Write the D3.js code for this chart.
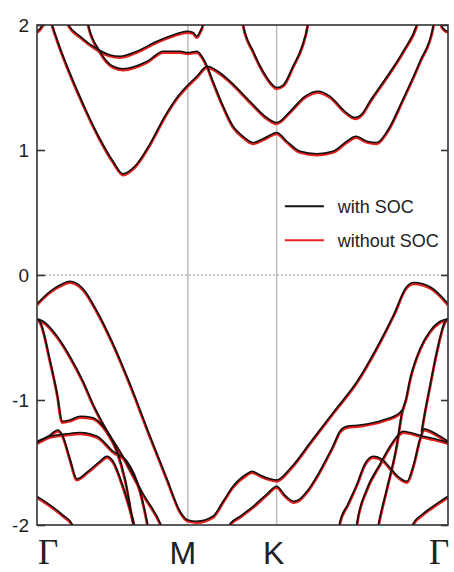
<!DOCTYPE html>
<html>
<head>
<meta charset="utf-8">
<script src="https://cdn.jsdelivr.net/npm/d3@7"></script>
<style>
  html, body { margin: 0; padding: 0; background: #fff; }
  svg { display: block; }
</style>
</head>
<body>
<div id="chart"></div>
<script>
(() => {
const kPoints = [0, 0.367, 0.583, 1];
const kLabels = ["Γ", "M", "K", "Γ"];
const energyTicks = [-2, -1, 0, 1, 2];
const legendLabels = ["with SOC", "without SOC"];

// bands as [k along Γ-M-K-Γ (0..1), E in eV]
const bandC0L = [[0, 1.94], [0.007, 1.96], [0.013, 1.99], [0.02, 2.06]];
const bandC0R = [[0.978, 2.06], [0.985, 1.98], [0.993, 1.95], [1, 1.94]];
const bandC1 = [[0.025, 2.12], [0.036, 2.00], [0.112, 1.36], [0.153, 1.08], [0.185, 0.90], [0.209, 0.80], [0.238, 0.86], [0.275, 1.04], [0.311, 1.26], [0.343, 1.42], [0.367, 1.51], [0.389, 1.58], [0.414, 1.66], [0.440, 1.62], [0.470, 1.54], [0.518, 1.38], [0.555, 1.26], [0.583, 1.21], [0.616, 1.30], [0.652, 1.42], [0.684, 1.46], [0.713, 1.42], [0.749, 1.30], [0.774, 1.25], [0.791, 1.28], [0.810, 1.38], [0.852, 1.58], [0.891, 1.78], [0.925, 2.00], [0.935, 2.12]];
const bandC2 = [[0.118, 2.15], [0.124, 2.00], [0.153, 1.78], [0.185, 1.66], [0.209, 1.64], [0.268, 1.70], [0.307, 1.78], [0.348, 1.78], [0.367, 1.77], [0.389, 1.78], [0.401, 1.74], [0.414, 1.66], [0.428, 1.54], [0.453, 1.34], [0.477, 1.18], [0.501, 1.10], [0.526, 1.05], [0.550, 1.08], [0.574, 1.12], [0.583, 1.13], [0.608, 1.06], [0.640, 0.98], [0.681, 0.96], [0.720, 0.98], [0.754, 1.06], [0.776, 1.10], [0.803, 1.06], [0.827, 1.05], [0.852, 1.14], [0.891, 1.40], [0.932, 1.70], [0.964, 1.98], [0.970, 2.10]];
const bandC3 = [[0.065, 2.12], [0.075, 2.00], [0.105, 1.90], [0.146, 1.80], [0.178, 1.75], [0.202, 1.74], [0.243, 1.78], [0.292, 1.86], [0.331, 1.91], [0.365, 1.94], [0.380, 1.93], [0.389, 1.90], [0.397, 1.94], [0.404, 2.00], [0.408, 2.10]];
const bandC4 = [[0.495, 2.12], [0.501, 2.00], [0.526, 1.78], [0.550, 1.62], [0.574, 1.51], [0.583, 1.49], [0.599, 1.51], [0.623, 1.66], [0.645, 1.82], [0.659, 2.00], [0.663, 2.10]];

const bandV1 = [[0, -0.24], [0.032, -0.14], [0.056, -0.09], [0.080, -0.06], [0.112, -0.12], [0.146, -0.30], [0.185, -0.56], [0.226, -0.88], [0.275, -1.30], [0.316, -1.64], [0.348, -1.90], [0.367, -1.97], [0.389, -1.98], [0.428, -1.94], [0.453, -1.82], [0.477, -1.70], [0.511, -1.60], [0.523, -1.58], [0.543, -1.61], [0.567, -1.64], [0.583, -1.65], [0.618, -1.55], [0.667, -1.34], [0.723, -1.10], [0.779, -0.86], [0.827, -0.59], [0.869, -0.32], [0.898, -0.11], [0.917, -0.07], [0.959, -0.11], [1, -0.24]];
const bandV2 = [[0, -0.36], [0.015, -0.38], [0.049, -0.50], [0.080, -0.66], [0.112, -0.86], [0.136, -1.04], [0.161, -1.20], [0.209, -1.46], [0.258, -1.76], [0.299, -1.99], [0.31, -2.08]];
const bandV3 = [[0, -0.36], [0.007, -0.38], [0.032, -0.70], [0.049, -0.96], [0.061, -1.18], [0.080, -1.17], [0.105, -1.14], [0.134, -1.15], [0.153, -1.19], [0.170, -1.26], [0.195, -1.42], [0.214, -1.64], [0.234, -1.99], [0.24, -2.08]];
const bandL1 = [[0, -1.34], [0.027, -1.30], [0.051, -1.25], [0.063, -1.30], [0.080, -1.48], [0.097, -1.64], [0.124, -1.58], [0.153, -1.50], [0.170, -1.46], [0.185, -1.50], [0.207, -1.68], [0.226, -1.88], [0.236, -2.0], [0.24, -2.06]];
const bandL2 = [[0, -1.35], [0.032, -1.30], [0.073, -1.28], [0.105, -1.27], [0.146, -1.30], [0.185, -1.42], [0.219, -1.50], [0.251, -1.74], [0.268, -1.99], [0.272, -2.06]];
const bandL0 = [[0, -1.78], [0.032, -1.85], [0.063, -1.93], [0.085, -2.0], [0.095, -2.08]];

const bandLowK = [[0.462, -2.08], [0.470, -2.00], [0.494, -1.94], [0.526, -1.86], [0.560, -1.76], [0.583, -1.70], [0.603, -1.77], [0.625, -1.82], [0.640, -1.80], [0.657, -1.74], [0.681, -1.62], [0.701, -1.50], [0.720, -1.38], [0.737, -1.26], [0.754, -1.22], [0.786, -1.21], [0.842, -1.17], [0.883, -1.11], [0.888, -1.09]];
const bandRb = [[0.828, -2.06], [0.832, -1.99], [0.852, -1.71], [0.876, -1.36], [0.888, -1.11], [0.898, -1.00], [0.908, -0.84], [0.932, -0.60], [0.956, -0.46], [0.981, -0.38], [1, -0.36]];
const bandRc = [[0.936, -1.26], [0.941, -1.16], [0.956, -0.90], [0.973, -0.62], [0.993, -0.38], [1, -0.36]];
const bandL1R = [[0.735, -2.06], [0.737, -1.99], [0.757, -1.84], [0.779, -1.68], [0.798, -1.52], [0.818, -1.46], [0.842, -1.49], [0.861, -1.56], [0.878, -1.62], [0.900, -1.66], [0.917, -1.52], [0.932, -1.32], [0.942, -1.24], [0.959, -1.26], [0.981, -1.30], [1, -1.34]];
const bandL2R = [[0.776, -2.06], [0.779, -1.99], [0.803, -1.72], [0.835, -1.52], [0.859, -1.38], [0.876, -1.30], [0.891, -1.26], [0.908, -1.27], [0.939, -1.30], [0.968, -1.32], [1, -1.35]];
const bandL0R = [[0.908, -2.08], [0.915, -2.0], [0.939, -1.92], [0.959, -1.87], [0.981, -1.82], [1, -1.78]];

const bands = [
  bandC0L, bandC0R, bandC1, bandC2, bandC3, bandC4,
  bandV1, bandV2, bandV3, bandL1, bandL2, bandL0,
  bandLowK, bandRb, bandRc, bandL1R, bandL2R, bandL0R
];

const width = 454;
const height = 572;
const margin = { top: 25, right: 6, bottom: 47, left: 37 };
const innerWidth = width - margin.left - margin.right;
const innerHeight = height - margin.top - margin.bottom;

const colorSOC = "#111111";
const colorNoSOC = "#e4211c";
const textColor = "#222222";

const svg = d3.select("#chart")
  .append("svg")
  .attr("width", width)
  .attr("height", height)
  .style("background", "#fff");

const g = svg.append("g")
  .attr("transform", `translate(${margin.left},${margin.top})`);

svg.append("defs")
  .append("clipPath")
  .attr("id", "plot-clip")
  .append("rect")
  .attr("width", innerWidth)
  .attr("height", innerHeight);

const x = d3.scaleLinear().domain([0, 1]).range([0, innerWidth]);
const y = d3.scaleLinear().domain([-2, 2]).range([innerHeight, 0]);

// high-symmetry lines
g.selectAll(".kline")
  .data(kPoints.slice(1, 3))
  .enter()
  .append("line")
  .attr("x1", d => x(d)).attr("x2", d => x(d))
  .attr("y1", 0).attr("y2", innerHeight)
  .attr("stroke", "#bdbdbd")
  .attr("stroke-width", 1.5);

// Fermi level
g.append("line")
  .attr("x1", 0).attr("x2", innerWidth)
  .attr("y1", y(0)).attr("y2", y(0))
  .attr("stroke", "#888")
  .attr("stroke-width", 1)
  .attr("stroke-dasharray", "2,2");

const line = d3.line()
  .x(d => x(d[0]))
  .y(d => y(d[1]))
  .curve(d3.curveMonotoneX);

const plot = g.append("g").attr("clip-path", "url(#plot-clip)");

plot.append("g")
  .selectAll("path")
  .data(bands)
  .enter()
  .append("path")
  .attr("d", line)
  .attr("fill", "none")
  .attr("stroke", colorNoSOC)
  .attr("stroke-width", 2.8);

plot.append("g")
  .attr("transform", "translate(0,-1.2)")
  .selectAll("path")
  .data(bands)
  .enter()
  .append("path")
  .attr("d", line)
  .attr("fill", "none")
  .attr("stroke", colorSOC)
  .attr("stroke-width", 1.6);

// frame
g.append("rect")
  .attr("width", innerWidth)
  .attr("height", innerHeight)
  .attr("fill", "none")
  .attr("stroke", "#333")
  .attr("stroke-width", 1.6);

// y axis, ticks pointing inward
const yAxis = g.append("g")
  .call(d3.axisRight(y).tickValues(energyTicks).tickSize(8).tickFormat(d => String(d)));
yAxis.select(".domain").remove();
yAxis.selectAll("line").attr("stroke", "#333").attr("stroke-width", 1.6);
yAxis.selectAll("text")
  .attr("x", -8)
  .attr("dy", "0.35em")
  .attr("text-anchor", "end")
  .style("font-family", "'Liberation Sans', Arial, sans-serif")
  .style("font-size", "19px")
  .attr("fill", textColor);

const yAxisRight = g.append("g")
  .attr("transform", `translate(${innerWidth},0)`)
  .call(d3.axisLeft(y).tickValues(energyTicks).tickSize(7).tickFormat(""));
yAxisRight.select(".domain").remove();
yAxisRight.selectAll("line").attr("stroke", "#333").attr("stroke-width", 1.6);

// k-point labels
const labelDx = [11, -5, -3, -9];
g.selectAll(".klabel")
  .data(kPoints)
  .enter()
  .append("text")
  .attr("x", (d, i) => x(d) + labelDx[i])
  .attr("y", innerHeight + 39)
  .attr("text-anchor", "middle")
  .style("font-family", (d, i) => kLabels[i] === "Γ" ? "'Liberation Serif', 'Times New Roman', serif" : "'Liberation Sans', Arial, sans-serif")
  .style("font-size", (d, i) => kLabels[i] === "Γ" ? "35px" : "32px")
  .attr("fill", textColor)
  .text((d, i) => kLabels[i]);

// legend
const legend = g.append("g")
  .attr("transform", `translate(${x(0.603)},${y(0.55)})`);

legendLabels.forEach((label, i) => {
  const row = legend.append("g")
    .attr("transform", `translate(0,${i * 34})`);

  row.append("line")
    .attr("x1", 0).attr("x2", 39)
    .attr("y1", 0).attr("y2", 0)
    .attr("stroke", i === 0 ? colorSOC : colorNoSOC)
    .attr("stroke-width", 2);

  row.append("text")
    .attr("x", 53)
    .attr("y", 0)
    .attr("dy", "0.35em")
    .style("font-family", "'Liberation Sans', Arial, sans-serif")
    .style("font-size", "18px")
    .attr("fill", textColor)
    .text(label);
});
})();
</script>
</body>
</html>
